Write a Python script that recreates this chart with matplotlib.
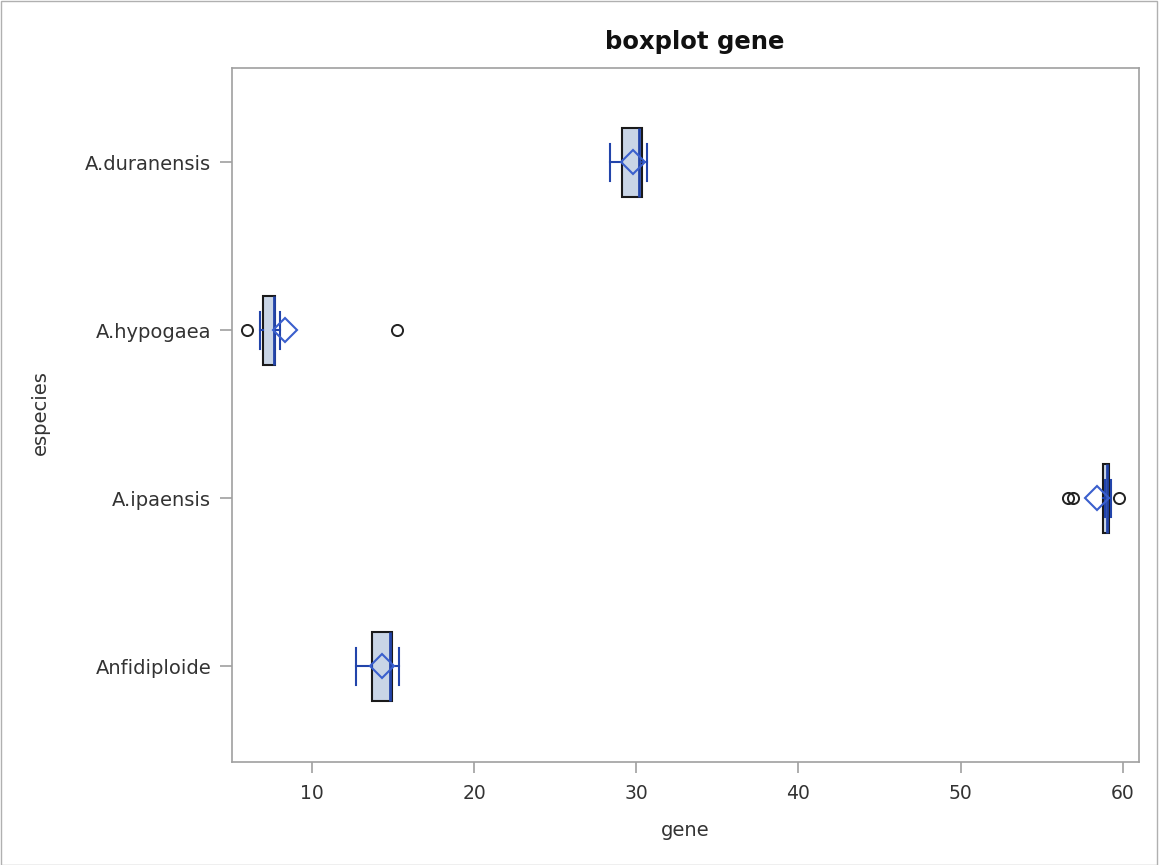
import matplotlib
matplotlib.use("Agg")
import matplotlib.pyplot as plt
import matplotlib.patches as mpatches

plt.rcParams['font.family'] = ['DejaVu Sans']

species = ["A.duranensis", "A.hypogaea", "A.ipaensis", "Anfidiploide"]
q1 = [29.11, 6.98, 58.77, 13.70]
med = [30.16, 7.66, 59.00, 14.81]
q3 = [30.35, 7.72, 59.14, 14.93]
whislo = [28.37, 6.79, 58.90, 12.71]
whishi = [30.65, 8.03, 59.26, 15.36]
means = [29.80, 8.34, 58.40, 14.30]
fliers = [[], [6.00, 15.24], [56.60, 56.90, 59.75], []]

xlim = (5.07, 61.0)
xticks = [10, 20, 30, 40, 50, 60]

W, H = 1159, 865
fig = plt.figure(figsize=(W / 100, H / 100), dpi=100)
ax = fig.add_axes([232 / W, 1 - 762 / H, (1139 - 232) / W, (762 - 68) / H])

positions = [3, 2, 1, 0]
stats = []
for i, name in enumerate(species):
    stats.append(dict(label=name, q1=q1[i], med=med[i], q3=q3[i],
                      whislo=whislo[i], whishi=whishi[i], mean=means[i],
                      fliers=fliers[i]))

blue = "#2244AA"
ax.bxp(stats, positions=positions, vert=False, widths=0.41, patch_artist=True,
       showmeans=True, showfliers=True,
       boxprops=dict(facecolor="#C9D5E6", edgecolor="#1A1A1A", linewidth=1.5),
       medianprops=dict(color=blue, linewidth=2),
       whiskerprops=dict(color=blue, linewidth=1.5),
       capprops=dict(color=blue, linewidth=1.5),
       capwidths=0.22,
       meanprops=dict(marker="D", markerfacecolor="none", markeredgecolor="#3A5FCD",
                      markersize=12, markeredgewidth=1.5),
       flierprops=dict(marker="o", markerfacecolor="none", markeredgecolor="#222222",
                       markersize=8, markeredgewidth=1.4))

ax.set_xlim(*xlim)
ax.set_ylim(-0.57, 3.56)
ax.set_xticks(xticks)
ax.set_yticks(positions)
ax.set_yticklabels(species)

for s in ax.spines.values():
    s.set_color("#A0A0A0")
    s.set_linewidth(1.2)
ax.tick_params(axis="y", colors="#A0A0A0", labelcolor="#333333", labelsize=14,
               length=9, width=1.2, direction="out", pad=6)
ax.tick_params(axis="x", colors="#A0A0A0", labelcolor="#333333", labelsize=13.5,
               length=8, width=1.2, direction="out", pad=8)

fig.text(40 / W, 1 - 413 / H, "especies", rotation=90, ha="center", va="center",
         fontsize=14, color="#333333")
fig.text(685 / W, 1 - 831 / H, "gene", ha="center", va="center",
         fontsize=14, color="#333333")
fig.text(695 / W, 1 - 42 / H, "boxplot gene", ha="center", va="center",
         fontsize=17.5, fontweight="bold", color="#111111")

border = mpatches.Rectangle((0.0005, 0.0005), 0.998, 0.998, transform=fig.transFigure,
                            fill=False, edgecolor="#B0B0B0", linewidth=1)
fig.patches.append(border)

fig.savefig("out.png", dpi=100)
